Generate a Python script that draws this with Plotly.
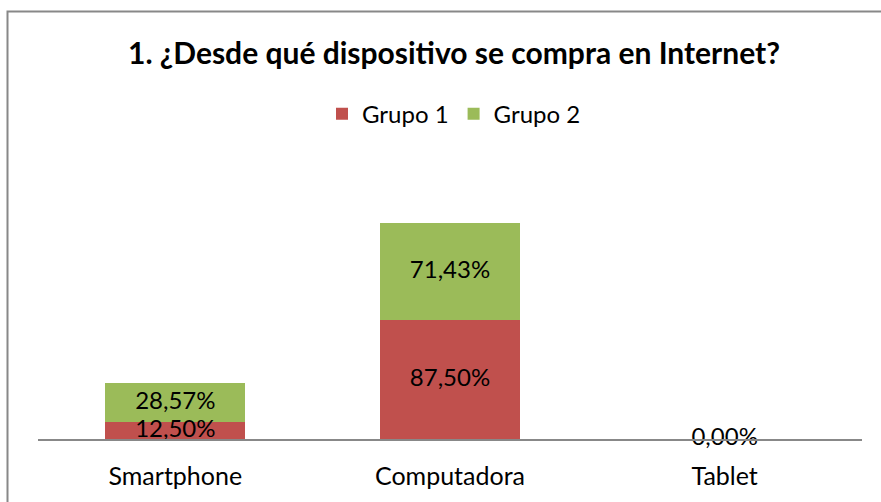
import plotly.graph_objects as go

# Datos
categorias = ["Smartphone", "Computadora", "Tablet"]
grupo_1 = [12.50, 87.50, 0.00]
grupo_2 = [28.57, 71.43, 0.00]
series = ["Grupo 1", "Grupo 2"]

ROJO = "#C0504D"
VERDE = "#9BBB59"
FONT = "Lato, 'Open Sans', sans-serif"

W, H = 881, 502
ML, MR, MT, MB = 38, 19, 150, 61
YMAX = 213


def fmt(v):
    return f"{v:.2f}".replace(".", ",") + "%"


fig = go.Figure()
fig.add_trace(go.Bar(x=categorias, y=grupo_1, name=series[0],
                     marker=dict(color=ROJO, line=dict(width=0)), hoverinfo="skip"))
fig.add_trace(go.Bar(x=categorias, y=grupo_2, name=series[1],
                     marker=dict(color=VERDE, line=dict(width=0)), hoverinfo="skip"))

# etiquetas de datos centradas en cada segmento
# (cuando ambos valores son 0 las dos etiquetas coinciden: se muestra una sola)
mid_1 = [v / 2 for v in grupo_1]
mid_2 = [a + b / 2 for a, b in zip(grupo_1, grupo_2)]
txt_1 = [fmt(v) for v in grupo_1]
txt_2 = [fmt(b) if (a + b) > 0 else "" for a, b in zip(grupo_1, grupo_2)]
lbl_font = dict(family=FONT, size=24, color="black")
fig.add_trace(go.Scatter(x=categorias, y=mid_1, mode="text", text=txt_1, textfont=lbl_font,
                         showlegend=False, hoverinfo="skip", cliponaxis=False))
fig.add_trace(go.Scatter(x=categorias, y=mid_2, mode="text", text=txt_2, textfont=lbl_font,
                         showlegend=False, hoverinfo="skip", cliponaxis=False))

plot_w = W - ML - MR
plot_h = H - MT - MB

# marco gris del área del gráfico
fig.add_shape(type="rect", xref="paper", yref="paper",
              x0=(7.5 - ML) / plot_w, x1=1.2,
              y0=-0.4, y1=(H - MB - 10.5) / plot_h,
              line=dict(color="#888888", width=2), fillcolor="rgba(0,0,0,0)", layer="below")

fig.update_layout(
    width=W, height=H,
    barmode="stack", bargap=0.49,
    paper_bgcolor="white", plot_bgcolor="white",
    margin=dict(l=ML, r=MR, t=MT, b=MB),
    title=dict(text="<b>1. ¿Desde qué dispositivo se compra en Internet?</b>",
               font=dict(family=FONT, size=30, color="black"),
               x=454 / W, xref="container", xanchor="center",
               y=1 - 53 / H, yref="container", yanchor="middle"),
    legend=dict(orientation="h", x=(454 - ML) / plot_w, xanchor="center",
                y=(H - MB - 114) / plot_h, yanchor="middle",
                font=dict(family=FONT, size=24, color="black"),
                itemsizing="constant", traceorder="normal"),
    showlegend=True,
)
fig.update_xaxes(showline=True, linecolor="#888888", linewidth=2, showgrid=False,
                 ticks="", ticklabelstandoff=14,
                 tickfont=dict(family=FONT, size=25, color="black"),
                 fixedrange=True)
fig.update_yaxes(visible=False, range=[0, YMAX], fixedrange=True)

fig.write_html("out.html", config={"displayModeBar": False},
               post_script="document.body.style.margin='0';")
